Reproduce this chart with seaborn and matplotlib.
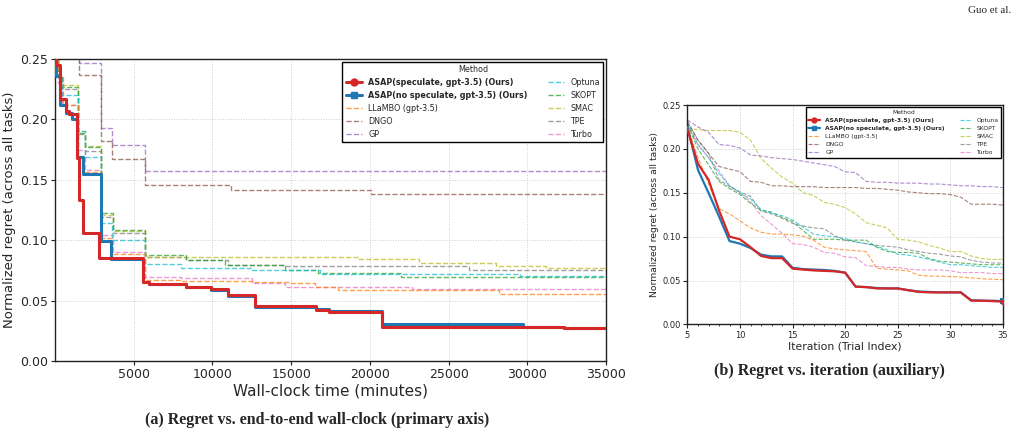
import matplotlib
matplotlib.use("Agg")
import matplotlib.pyplot as plt
from matplotlib.lines import Line2D
import seaborn as sns

# method names and colours
methods = ['ASAP(speculate, gpt-3.5) (Ours)', 'ASAP(no speculate, gpt-3.5) (Ours)',
           'LLaMBO (gpt-3.5)', 'DNGO', 'GP', 'Optuna', 'SKOPT', 'SMAC', 'TPE', 'Turbo']
colors = ['#d62728', '#1f77b4', '#ff7f0e', '#8c564b', '#9467bd',
          '#17becf', '#2ca02c', '#bcbd22', '#7f7f7f', '#e377c2']

# (a) wall-clock, step curves: time (minutes) where the value starts, and the value
red_t = [0, 100, 350, 700, 900, 1400, 1550, 1800, 2800, 5600, 6000, 8300, 9900, 11000, 12700, 16600, 17400, 20800, 32300, 35000]
red_v = [0.26, 0.245, 0.217, 0.2065, 0.204, 0.168, 0.133, 0.106, 0.085, 0.0655, 0.0636, 0.0612, 0.0592, 0.0545, 0.0452, 0.0425, 0.0405, 0.0283, 0.027, 0.027]
blue_t = [0, 100, 350, 700, 1100, 1400, 1770, 2900, 3540, 5600, 6000, 8300, 9900, 11000, 12700, 16600, 17400, 20800, 29700, 32300, 35000]
blue_v = [0.26, 0.236, 0.212, 0.205, 0.2005, 0.1685, 0.1545, 0.0994, 0.0848, 0.065, 0.0636, 0.061, 0.059, 0.0535, 0.0445, 0.043, 0.0415, 0.0306, 0.028, 0.027, 0.027]
llambo_t = [0, 200, 500, 1450, 1800, 2900, 3600, 5700, 8000, 12500, 15000, 16500, 18000, 28200, 35000]
llambo_v = [0.26, 0.235, 0.212, 0.17, 0.1564, 0.102, 0.0884, 0.0669, 0.0663, 0.0655, 0.0642, 0.0614, 0.0587, 0.0553, 0.0553]
dngo_t = [0, 1560, 2900, 3600, 5700, 11200, 20100, 35000]
dngo_v = [0.28, 0.2363, 0.182, 0.1675, 0.146, 0.1413, 0.1385, 0.1385]
gp_t = [0, 1500, 2900, 3600, 5700, 35000]
gp_v = [0.29, 0.2468, 0.1925, 0.1785, 0.157, 0.157]
optuna_t = [0, 200, 450, 1450, 1900, 2900, 3600, 5700, 8000, 12500, 16800, 29500, 35000]
optuna_v = [0.26, 0.235, 0.2204, 0.19, 0.169, 0.1143, 0.1005, 0.0801, 0.0771, 0.0752, 0.0724, 0.0702, 0.0702]
skopt_t = [0, 200, 450, 1450, 1880, 2900, 3680, 5700, 8300, 10800, 14600, 16700, 22000, 35000]
skopt_v = [0.26, 0.235, 0.2266, 0.189, 0.177, 0.1226, 0.1088, 0.0876, 0.0834, 0.0793, 0.0757, 0.073, 0.0696, 0.0696]
smac_t = [0, 200, 450, 1450, 1880, 2900, 3680, 5700, 19300, 23100, 28000, 31200, 35000]
smac_v = [0.26, 0.236, 0.228, 0.19, 0.1775, 0.1206, 0.1077, 0.0862, 0.084, 0.0815, 0.0787, 0.0766, 0.0766]
tpe_t = [0, 200, 450, 1450, 1880, 2900, 3680, 5700, 8300, 11000, 14600, 26300, 35000]
tpe_v = [0.26, 0.235, 0.2253, 0.188, 0.174, 0.119, 0.1063, 0.0857, 0.0834, 0.0793, 0.0787, 0.0752, 0.0752]
turbo_t = [0, 200, 450, 1450, 1880, 2900, 3680, 5700, 8000, 12500, 14600, 22700, 35000]
turbo_v = [0.26, 0.23, 0.2115, 0.175, 0.158, 0.104, 0.0903, 0.0691, 0.0683, 0.0647, 0.0614, 0.0597, 0.0597]

# (b) regret per iteration, trials 5..35
iters = list(range(5, 36))
red_it = [0.222, 0.183, 0.165, 0.13, 0.100, 0.097, 0.088, 0.078, 0.0755, 0.0755, 0.0635, 0.0625, 0.0615, 0.061, 0.0605, 0.059,
          0.043, 0.0425, 0.041, 0.041, 0.041, 0.039, 0.037, 0.0365, 0.0365, 0.0365, 0.0365, 0.027, 0.027, 0.0265, 0.026]
blue_it = [0.225, 0.176, 0.15, 0.123, 0.095, 0.092, 0.087, 0.0795, 0.0775, 0.0775, 0.0645, 0.063, 0.0625, 0.062, 0.061, 0.059,
           0.043, 0.0425, 0.0415, 0.041, 0.041, 0.039, 0.0375, 0.037, 0.0365, 0.0365, 0.0365, 0.0275, 0.027, 0.027, 0.0265]
llambo_it = [0.225, 0.19, 0.16, 0.132, 0.126, 0.118, 0.110, 0.105, 0.103, 0.103, 0.102, 0.1005, 0.096, 0.088, 0.086, 0.085,
             0.084, 0.083, 0.064, 0.063, 0.062, 0.061, 0.056, 0.055, 0.055, 0.0545, 0.054, 0.053, 0.052, 0.0515, 0.051]
dngo_it = [0.23, 0.21, 0.195, 0.18, 0.177, 0.174, 0.163, 0.162, 0.158, 0.158, 0.157, 0.157, 0.157, 0.156, 0.156, 0.156,
           0.156, 0.155, 0.155, 0.154, 0.153, 0.151, 0.150, 0.149, 0.149, 0.148, 0.145, 0.137, 0.137, 0.137, 0.136]
gp_it = [0.233, 0.225, 0.219, 0.205, 0.204, 0.201, 0.193, 0.192, 0.190, 0.189, 0.188, 0.186, 0.184, 0.182, 0.180, 0.174,
         0.173, 0.163, 0.162, 0.162, 0.161, 0.161, 0.161, 0.160, 0.160, 0.159, 0.158, 0.158, 0.157, 0.157, 0.156]
optuna_it = [0.23, 0.205, 0.19, 0.172, 0.158, 0.150, 0.143, 0.131, 0.127, 0.124, 0.119, 0.111, 0.103, 0.101, 0.100, 0.098,
             0.094, 0.092, 0.089, 0.085, 0.080, 0.079, 0.077, 0.074, 0.071, 0.068, 0.068, 0.067, 0.066, 0.065, 0.065]
skopt_it = [0.228, 0.20, 0.182, 0.163, 0.155, 0.148, 0.138, 0.130, 0.128, 0.122, 0.117, 0.107, 0.097, 0.097, 0.097, 0.096,
            0.096, 0.096, 0.088, 0.083, 0.082, 0.082, 0.081, 0.075, 0.072, 0.071, 0.070, 0.069, 0.068, 0.068, 0.068]
smac_it = [0.223, 0.222, 0.221, 0.221, 0.221, 0.219, 0.210, 0.189, 0.178, 0.168, 0.161, 0.150, 0.147, 0.139, 0.137, 0.133,
           0.126, 0.116, 0.113, 0.110, 0.097, 0.096, 0.094, 0.090, 0.087, 0.083, 0.083, 0.078, 0.075, 0.074, 0.074]
tpe_it = [0.232, 0.21, 0.195, 0.165, 0.157, 0.151, 0.146, 0.129, 0.126, 0.121, 0.115, 0.112, 0.110, 0.109, 0.101, 0.096,
          0.094, 0.092, 0.090, 0.089, 0.088, 0.085, 0.083, 0.081, 0.080, 0.078, 0.077, 0.073, 0.071, 0.070, 0.070]
turbo_it = [0.227, 0.205, 0.19, 0.175, 0.158, 0.150, 0.140, 0.124, 0.114, 0.104, 0.092, 0.091, 0.088, 0.082, 0.081, 0.077,
            0.076, 0.067, 0.066, 0.065, 0.065, 0.063, 0.062, 0.062, 0.062, 0.061, 0.059, 0.059, 0.059, 0.058, 0.058]

wall = [(red_t, red_v), (blue_t, blue_v), (llambo_t, llambo_v), (dngo_t, dngo_v), (gp_t, gp_v),
        (optuna_t, optuna_v), (skopt_t, skopt_v), (smac_t, smac_v), (tpe_t, tpe_v), (turbo_t, turbo_v)]
per_iter = [red_it, blue_it, llambo_it, dngo_it, gp_it, optuna_it, skopt_it, smac_it, tpe_it, turbo_it]


def style_axes(ax, fs):
    ax.grid(True, linestyle=':', color='#cccccc', linewidth=0.7)
    for sp in ax.spines.values():
        sp.set_color('#222222')
        sp.set_linewidth(1.0)
    ax.tick_params(axis='both', labelsize=fs, length=3, width=0.8, color='#222222', pad=2)


def add_legend(ax, fs, lw_main, lw_base, ms):
    handles = []
    for i, (m, c) in enumerate(zip(methods, colors)):
        if i < 2:
            handles.append(Line2D([], [], color=c, lw=lw_main, marker='o' if i == 0 else 's', ms=ms))
        else:
            handles.append(Line2D([], [], color=c, lw=lw_base, ls='--', alpha=0.75))
    leg = ax.legend(handles, methods, title='Method', ncol=2, loc='upper right', fontsize=fs,
                    title_fontsize=fs, frameon=True, fancybox=False, framealpha=1,
                    edgecolor='black', borderaxespad=0.35, columnspacing=2.5)
    leg.get_frame().set_linewidth(1.0)
    for t in leg.get_texts()[:2]:
        t.set_fontweight('bold')
    return leg


sns.set_theme(style='whitegrid')
plt.rcParams['font.family'] = ['DejaVu Sans']

fig = plt.figure(figsize=(10.17, 4.36), dpi=100)
ax1 = fig.add_axes([0.054, 0.172, 0.542, 0.693])
ax2 = fig.add_axes([0.676, 0.256, 0.31, 0.503])

# panel (a)
for i in range(len(methods) - 1, -1, -1):
    t, v = wall[i]
    if i < 2:
        sns.lineplot(x=t, y=v, ax=ax1, color=colors[i], linewidth=2.2, drawstyle='steps-post',
                     estimator=None, zorder=5 - i)
    else:
        sns.lineplot(x=t, y=v, ax=ax1, color=colors[i], linewidth=1.0, linestyle='--',
                     alpha=0.75, drawstyle='steps-post', estimator=None)
ax1.set_xlim(0, 35000)
ax1.set_ylim(0, 0.25)
ax1.set_xticks([5000, 10000, 15000, 20000, 25000, 30000, 35000])
ax1.set_yticks([0, 0.05, 0.10, 0.15, 0.20, 0.25])
ax1.set_yticklabels(['0.00', '0.05', '0.10', '0.15', '0.20', '0.25'])
style_axes(ax1, 9)
ax1.set_xlabel('Wall-clock time (minutes)', fontsize=11, labelpad=2)
ax1.set_ylabel('Normalized regret (across all tasks)', fontsize=9.5, labelpad=3)
add_legend(ax1, 5.8, 2.2, 1.0, 5)

# panel (b)
for i in range(len(methods) - 1, -1, -1):
    v = per_iter[i]
    if i < 2:
        sns.lineplot(x=iters, y=v, ax=ax2, color=colors[i], linewidth=1.6, marker='o' if i == 0 else 's',
                     markersize=4, markevery=[len(iters) - 1], markeredgewidth=0, estimator=None, zorder=5 - i)
    else:
        sns.lineplot(x=iters, y=v, ax=ax2, color=colors[i], linewidth=0.8, linestyle='--',
                     alpha=0.75, estimator=None)
ax2.set_xlim(5, 35)
ax2.set_ylim(0, 0.25)
ax2.set_xticks([5, 10, 15, 20, 25, 30, 35])
ax2.set_xticks(iters, minor=True)
ax2.set_yticks([0, 0.05, 0.10, 0.15, 0.20, 0.25])
ax2.set_yticklabels(['0.00', '0.05', '0.10', '0.15', '0.20', '0.25'])
style_axes(ax2, 6)
ax2.tick_params(axis='x', which='minor', length=1.5, width=0.6, color='#222222', bottom=True)
ax2.tick_params(axis='x', which='major', bottom=True)
ax2.tick_params(axis='y', left=True)
ax2.set_xlabel('Iteration (Trial Index)', fontsize=7.8, labelpad=1)
ax2.set_ylabel('Normalized regret (across all tasks)', fontsize=6.7, labelpad=2)
add_legend(ax2, 4.3, 1.6, 0.8, 3.5)

ax1.tick_params(axis='both', bottom=True, left=True)

# captions
fig.text(0.312, 0.037, '(a) Regret vs. end-to-end wall-clock (primary axis)', ha='center', va='center',
         fontsize=11.5, fontweight='bold', family='Liberation Serif')
fig.text(0.816, 0.15, '(b) Regret vs. iteration (auxiliary)', ha='center', va='center',
         fontsize=11.5, fontweight='bold', family='Liberation Serif')
fig.text(0.994, 0.975, 'Guo et al.', ha='right', va='center', fontsize=8, family='Liberation Serif')

fig.savefig('out.png', dpi=100)
